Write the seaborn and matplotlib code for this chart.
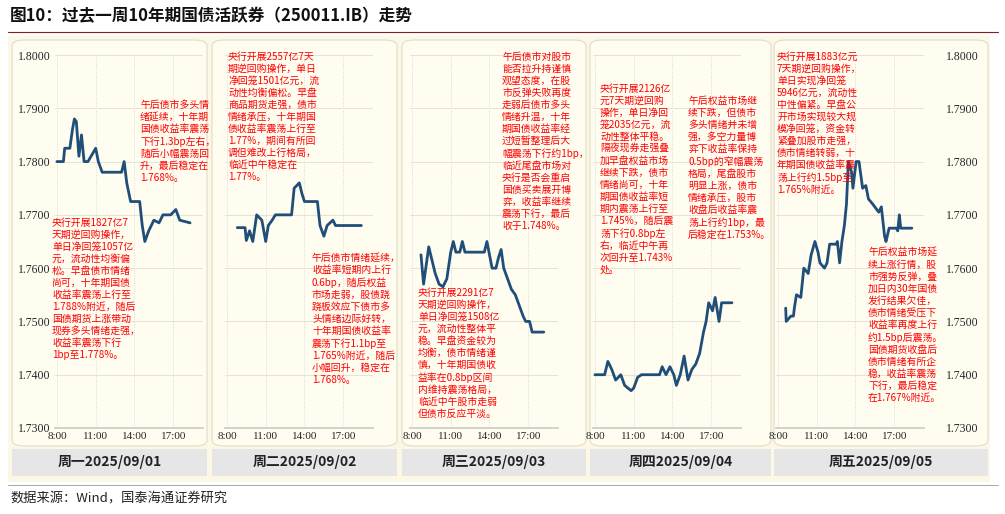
import numpy as np
import seaborn as sns
import matplotlib.pyplot as plt
from matplotlib.patches import FancyBboxPatch, Rectangle

sns.set_theme(style="white")
plt.rcParams['font.family'] = ['Noto Sans CJK SC', 'DejaVu Sans']

W, H = 1005, 514

# 数据：小时(十进制) 与 收益率(%)
d1_t = [8.0, 8.5, 8.6, 9.0, 9.2, 9.35, 9.5, 9.7, 9.9, 10.1, 10.4, 11.0, 11.2, 11.5, 13.0, 13.2, 13.4, 13.7, 14.4, 14.6, 14.8, 15.1, 15.5, 15.9, 16.2, 16.8, 17.2, 17.5, 18.3]
d1_y = [1.780, 1.780, 1.7825, 1.7825, 1.786, 1.788, 1.7875, 1.781, 1.785, 1.780, 1.780, 1.7825, 1.780, 1.778, 1.778, 1.780, 1.776, 1.7725, 1.7725, 1.768, 1.765, 1.767, 1.769, 1.7685, 1.770, 1.770, 1.771, 1.769, 1.7685]
d2_t = [8.8, 9.4, 9.5, 9.75, 10.0, 10.3, 10.7, 11.0, 11.2, 11.5, 11.75, 13.0, 13.2, 13.6, 13.8, 14.0, 15.0, 15.2, 15.5, 15.75, 16.2, 16.4, 18.4]
d2_y = [1.7676, 1.7676, 1.7652, 1.767, 1.765, 1.770, 1.769, 1.765, 1.768, 1.769, 1.770, 1.770, 1.775, 1.776, 1.774, 1.7725, 1.7725, 1.768, 1.766, 1.768, 1.769, 1.768, 1.768]
d3_t = [8.7, 8.9, 9.3, 9.5, 9.8, 10.1, 10.4, 10.7, 11.0, 11.2, 11.4, 11.7, 11.9, 12.1, 13.6, 13.8, 14.0, 14.2, 14.5, 14.7, 14.9, 15.1, 15.4, 15.7, 16.0, 16.3, 16.6, 16.8, 17.1, 17.3, 18.2]
d3_y = [1.7625, 1.757, 1.764, 1.762, 1.759, 1.757, 1.7565, 1.758, 1.763, 1.765, 1.763, 1.763, 1.765, 1.763, 1.763, 1.765, 1.7625, 1.760, 1.760, 1.762, 1.7635, 1.760, 1.758, 1.756, 1.755, 1.753, 1.751, 1.750, 1.750, 1.748, 1.748]
d4_t = [8.0, 8.75, 9.0, 9.3, 9.6, 10.0, 10.3, 10.8, 11.0, 11.3, 11.6, 12.0, 13.0, 13.2, 13.5, 13.8, 14.1, 14.3, 14.6, 14.9, 15.2, 15.5, 15.8, 16.1, 16.4, 16.6, 16.8, 17.1, 17.3, 17.6, 17.8, 18.1, 18.6]
d4_y = [1.740, 1.740, 1.7425, 1.741, 1.739, 1.740, 1.738, 1.737, 1.7375, 1.7395, 1.740, 1.740, 1.740, 1.7415, 1.740, 1.7415, 1.740, 1.738, 1.740, 1.7435, 1.739, 1.741, 1.742, 1.744, 1.748, 1.750, 1.7535, 1.752, 1.7545, 1.750, 1.7535, 1.7535, 1.7535]
d5_t = [8.6, 8.64, 9.0, 9.2, 9.27, 9.43, 9.77, 10.0, 10.34, 10.57, 10.86, 11.1, 11.25, 11.6, 11.8, 12.0, 12.5, 12.6, 12.77, 12.95, 13.14, 13.3, 13.45, 13.7, 13.8, 14.05, 14.27, 14.55, 14.8, 15.0, 15.34, 15.8, 16.0, 16.25, 16.36, 16.6, 17.16, 17.27, 17.39, 17.5, 18.36]
d5_y = [1.7525, 1.750, 1.751, 1.751, 1.7525, 1.755, 1.7545, 1.760, 1.759, 1.7625, 1.765, 1.763, 1.761, 1.760, 1.761, 1.7645, 1.7645, 1.765, 1.761, 1.765, 1.768, 1.772, 1.780, 1.778, 1.775, 1.780, 1.780, 1.775, 1.7755, 1.773, 1.772, 1.7705, 1.7715, 1.766, 1.765, 1.7675, 1.7675, 1.767, 1.770, 1.7675, 1.7675]

days = ["周一2025/09/01", "周二2025/09/02", "周三2025/09/03", "周四2025/09/04", "周五2025/09/05"]
y_ticks = [1.73, 1.74, 1.75, 1.76, 1.77, 1.78, 1.79, 1.80]
x_ticks = [8, 11, 14, 17]
x_labels = ["8:00", "11:00", "14:00", "17:00"]

notes = [
    [(52, 218, "央行开展1827亿7\n天期逆回购操作，\n单日净回笼1057亿\n元，流动性均衡偏\n松。早盘债市情绪\n尚可，十年期国债\n收益率震荡上行至\n1.788%附近，随后\n国债期货上涨带动\n现券多头情绪走强，\n收益率震荡下行\n1bp至1.778%。"),
     (140, 100, "午后债市多头情\n绪延续，十年期\n国债收益率震荡\n下行1.3bp左右，\n随后小幅震荡回\n升，最后稳定在\n1.768%。")],
    [(228, 52, "央行开展2557亿7天\n期逆回购操作，单日\n净回笼1501亿元，流\n动性均衡偏松。早盘\n商品期货走强，债市\n情绪承压，十年期国\n债收益率震荡上行至\n1.77%，期间有所回\n调但难改上行格局，\n临近中午稳定在\n1.77%。"),
     (312, 253, "午后债市情绪延续，\n收益率短期内上行\n0.6bp，随后权益\n市场走弱，股债跷\n跷板效应下债市多\n头情绪边际好转，\n十年期国债收益率\n震荡下行1.1bp至\n1.765%附近，随后\n小幅回升，稳定在\n1.768%。")],
    [(418, 288, "央行开展2291亿7\n天期逆回购操作，\n单日净回笼1508亿\n元，流动性整体平\n稳。早盘资金较为\n均衡，债市情绪谨\n慎，十年期国债收\n益率在0.8bp区间\n内维持震荡格局，\n临近中午股市走弱\n但债市反应平淡。"),
     (502, 52, "午后债市对股市\n能否拉升持谨慎\n观望态度，在股\n市反弹失败再度\n走弱后债市多头\n情绪升温，十年\n期国债收益率经\n过短暂整理后大\n幅震荡下行约1bp，\n临近尾盘市场对\n央行是否会重启\n国债买卖展开博\n弈，收益率继续\n震荡下行，最后\n收于1.748%。")],
    [(600, 84, "央行开展2126亿\n元7天期逆回购\n操作，单日净回\n笼2035亿元，流\n动性整体平稳。\n隔夜现券走强叠\n加早盘权益市场\n继续下跌，债市\n情绪尚可，十年\n期国债收益率短\n期内震荡上行至\n1.745%，随后震\n荡下行0.8bp左\n右，临近中午再\n次回升至1.743%\n处。"),
     (688, 96, "午后权益市场继\n续下跌，但债市\n多头情绪并未增\n强，多空力量博\n弈下收益率保持\n0.5bp的窄幅震荡\n格局，尾盘股市\n明显上涨，债市\n情绪承压，股市\n收盘后收益率震\n荡上行约1bp，最\n后稳定在1.753%。")],
    [(777, 52, "央行开展1883亿元\n7天期逆回购操作，\n单日实现净回笼\n5946亿元，流动性\n中性偏紧。早盘公\n开市场实现较大规\n模净回笼，资金转\n紧叠加股市走强，\n债市情绪转弱，十\n年期国债收益率震\n荡上行约1.5bp至\n1.765%附近。"),
     (868, 248, "午后权益市场延\n续上涨行情，股\n市强势反弹，叠\n加日内30年国债\n发行结果欠佳，\n债市情绪受压下\n收益率再度上行\n约1.5bp后震荡。\n国债期货收盘后\n债市情绪有所企\n稳，收益率震荡\n下行，最后稳定\n在1.767%附近。")],
]

fig = plt.figure(figsize=(W / 100, H / 100), dpi=100)
fig.patch.set_facecolor("white")

def fx(px):
    return px / W

def fy(py):
    return 1 - py / H

# 背景
fig.patches.append(Rectangle((fx(8), fy(482)), fx(990) - fx(8), fy(36) - fy(482),
                             transform=fig.transFigure, facecolor="#FDF8E6", edgecolor="none", zorder=-3))
boxes = [(12, 207), (212, 397), (402, 586), (590, 771), (774, 988)]
for (a, b), day in zip(boxes, days):
    fig.patches.append(FancyBboxPatch((fx(a), fy(446)), fx(b) - fx(a), fy(40) - fy(446),
                                      boxstyle="round,pad=0,rounding_size=0.012",
                                      transform=fig.transFigure, facecolor="#FFFCF0",
                                      edgecolor="#E2DCC8", lw=0.8, zorder=-2))
    fig.patches.append(Rectangle((fx(a), fy(476)), fx(b) - fx(a), fy(449) - fy(476),
                                 transform=fig.transFigure, facecolor="#E6E6E6",
                                 edgecolor="none", zorder=-2))
    fig.text(fx((a + b) / 2), fy(462), day, ha="center", va="center",
             fontsize=10, fontweight="bold", color="#222222")

series = [(d1_t, d1_y), (d2_t, d2_y), (d3_t, d3_y), (d4_t, d4_y), (d5_t, d5_y)]
x0s = [57, 227, 412, 595, 778]
for i, ((t, y), x0) in enumerate(zip(series, x0s)):
    ax = fig.add_axes([fx(x0 - 2), fy(428), 148 / W, (428 - 55) / H])
    ax.set_zorder(2)
    ax.set_facecolor("none")
    sns.lineplot(x=t, y=y, ax=ax, color="#1F4E79", lw=2)
    ax.set_xlim(7.85, 19.3)
    ax.set_ylim(1.73, 1.80)
    ax.set_xticks(x_ticks)
    ax.set_xticklabels(x_labels, fontsize=8, family="Liberation Serif")
    ax.set_yticks(y_ticks)
    ax.grid(axis="y", color="#E6E2D6", lw=0.7)
    ax.grid(axis="x", color="#D8D8D8", lw=0.7, ls=":")
    for s in ax.spines.values():
        s.set_visible(False)
    ax.spines["bottom"].set_visible(True)
    ax.spines["bottom"].set_color("#CCCCCC")
    ax.tick_params(axis="both", length=0, pad=3)
    if i == 0:
        ax.set_yticklabels([f"{v:.4f}" for v in y_ticks], fontsize=8.5, family="Liberation Serif")
    elif i == 4:
        ax.yaxis.tick_right()
        ax.set_yticklabels([f"{v:.4f}" for v in y_ticks], fontsize=8.5, family="Liberation Serif")
        ax.tick_params(axis="y", pad=16)
    else:
        ax.set_yticklabels([])

for pair in notes:
    for px, py, txt in pair:
        fig.text(fx(px), fy(py), txt, ha="left", va="top", fontsize=7.1,
                 color="#FF0000", linespacing=1.25, zorder=5)

fig.text(fx(10), fy(16), "图10：过去一周10年期国债活跃券（250011.IB）走势", ha="left", va="center",
         fontsize=12, fontweight="bold", color="#111111")
fig.add_artist(plt.Line2D([fx(8), fx(998)], [fy(32), fy(32)], color="#8B1A1A", lw=0.8))
fig.add_artist(plt.Line2D([fx(8), fx(998)], [fy(485), fy(485)], color="#999999", lw=0.6))
fig.text(fx(10), fy(499), "数据来源：Wind，国泰海通证券研究", ha="left", va="center",
         fontsize=9.5, color="#222222")

fig.savefig("out.png", dpi=100)
